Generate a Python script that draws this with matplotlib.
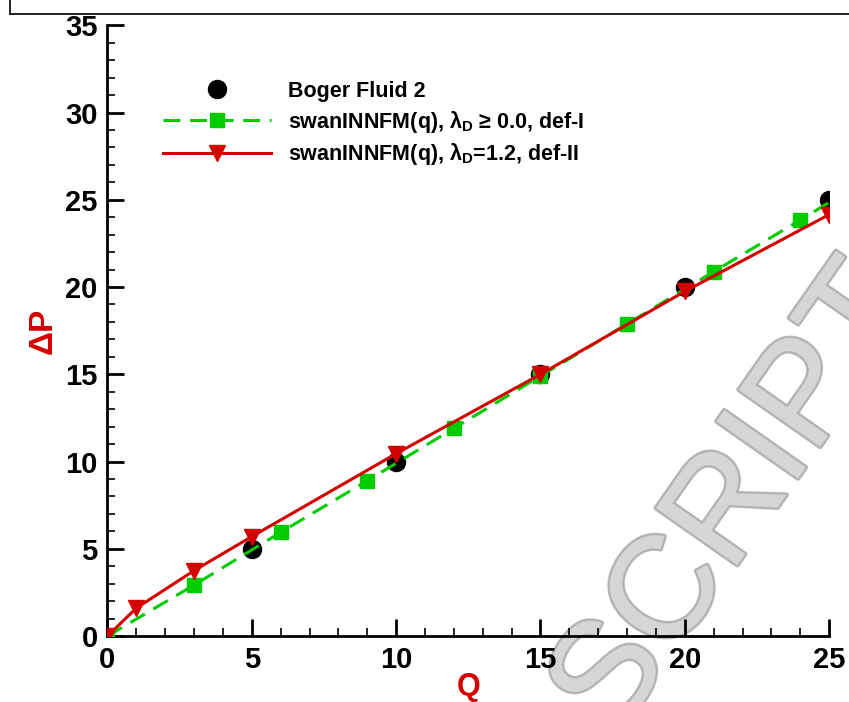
import numpy as np
import matplotlib
matplotlib.use("Agg")
import matplotlib.pyplot as plt
import matplotlib.patheffects as pe
from matplotlib.lines import Line2D
from matplotlib.ticker import MultipleLocator

plt.rcParams["font.family"] = ["Liberation Sans", "DejaVu Sans"]
plt.rcParams["font.weight"] = "bold"
plt.rcParams["mathtext.fontset"] = "custom"
plt.rcParams["mathtext.rm"] = "Liberation Sans:bold"
plt.rcParams["mathtext.bf"] = "Liberation Sans:bold"
plt.rcParams["mathtext.it"] = "Liberation Sans:bold"

# experiment: Boger fluid 2
q_exp = [5, 10, 15, 20, 25]
dp_exp = [5.0, 10.0, 15.0, 20.0, 25.0]

# swanINNFM(q), def-I (markers every 3, curve to Q=25)
q_def1 = [0, 3, 6, 9, 12, 15, 18, 21, 24, 25]
dp_def1 = [0.0, 2.92, 5.94, 8.9, 11.9, 14.9, 17.88, 20.88, 23.84, 24.85]

# swanINNFM(q), def-II
q_def2 = [0, 1, 3, 5, 10, 15, 20, 25]
dp_def2 = [0.0, 1.6, 3.75, 5.7, 10.45, 15.0, 19.75, 24.15]

RED = "#d40000"
GREEN = "#00cc00"

fig = plt.figure(figsize=(8.49, 7.02), dpi=100)
ax = fig.add_axes([0.1266, 0.094, 0.85, 0.8700])

# watermark behind the data
ax.text(0.872, 0.222, "SCRIPT", transform=ax.transAxes, rotation=55,
        rotation_mode="anchor", ha="center", va="center", fontsize=104,
        fontweight="normal", color="#d6d6d6", zorder=0,
        path_effects=[pe.withStroke(linewidth=3.5, foreground="#b4b4b4")])

ax.plot(q_def1, dp_def1, color=GREEN, lw=2.2, dashes=(5.5, 3.2),
        marker="s", ms=10, mec=GREEN, mfc=GREEN, markevery=slice(0, 9), zorder=3)
ax.plot(q_def2, dp_def2, color=RED, lw=2.2, marker="v", ms=11.5,
        mec=RED, mfc=RED, zorder=4)
ax.plot(q_exp, dp_exp, "o", color="black", ms=13, zorder=2)

ax.set_xlim(0, 25)
ax.set_ylim(0, 35)
ax.xaxis.set_major_locator(MultipleLocator(5))
ax.xaxis.set_minor_locator(MultipleLocator(1))
ax.yaxis.set_major_locator(MultipleLocator(5))
ax.yaxis.set_minor_locator(MultipleLocator(1))
ax.tick_params(which="major", direction="in", length=12, width=2, labelsize=21, pad=7)
ax.tick_params(which="minor", direction="in", length=6, width=1.2)
for s in ["top", "right"]:
    ax.spines[s].set_visible(False)
for s in ["left", "bottom"]:
    ax.spines[s].set_linewidth(2)
for lab in ax.get_xticklabels() + ax.get_yticklabels():
    lab.set_fontweight("bold")

ax.set_xlabel("Q", color=RED, fontsize=22, fontweight="bold", labelpad=-1)
ax.set_ylabel("ΔP", color=RED, fontsize=24, fontweight="bold", labelpad=5)

handles = [
    Line2D([], [], ls="none", marker="o", color="black", ms=13),
    Line2D([], [], color=GREEN, lw=2.2, dashes=(5.5, 3.2), marker="s", ms=10),
    Line2D([], [], color=RED, lw=2.2, marker="v", ms=11.5),
]
labels = [
    "Boger Fluid 2",
    r"swanINNFM(q), $\mathrm{\lambda_D}$ ≥ 0.0, def-I",
    r"swanINNFM(q), $\mathrm{\lambda_D}$=1.2, def-II",
]
leg = ax.legend(handles, labels, loc="upper left", bbox_to_anchor=(0.05, 0.941),
                frameon=False, handlelength=5.0, handletextpad=0.8,
                labelspacing=0.32, prop={"weight": "bold", "size": 15.5})

# cropped page border at the top
fig.add_artist(Line2D([10 / 849, 1.0], [1 - 14 / 702, 1 - 14 / 702],
                      transform=fig.transFigure, color="black", lw=1.2))
fig.add_artist(Line2D([10 / 849, 10 / 849], [1 - 14 / 702, 1.0],
                      transform=fig.transFigure, color="black", lw=1.2))

fig.savefig("out.png", dpi=100)
